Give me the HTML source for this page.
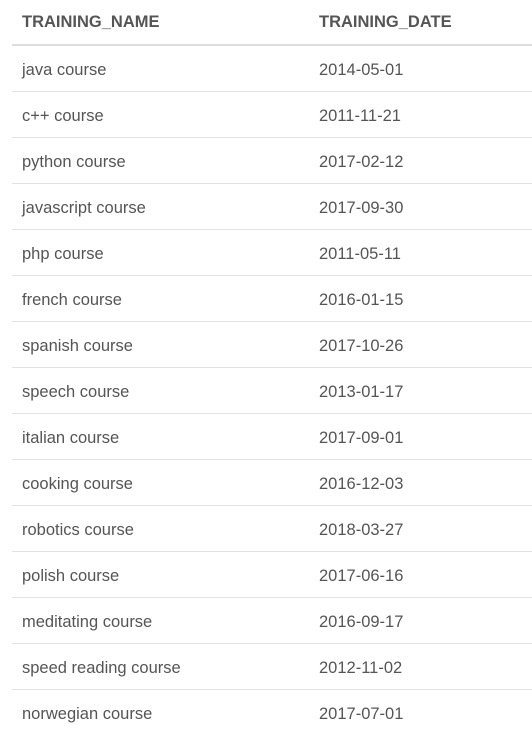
<!DOCTYPE html>
<html><head><style>
body{margin:0;background:#fff;width:532px;height:738px;overflow:hidden;font-family:"Liberation Sans",sans-serif;color:#555;position:relative;}
.w{position:absolute;left:0;top:1px;width:532px;height:738px;}
.r{position:absolute;left:12px;width:520px;height:45px;border-bottom:1px solid #e2e2e2;font-size:16.5px;line-height:45px;}
.r span{position:absolute;top:2px;}
.r span:first-child{left:10px}
.r span:last-child{left:307px}
.h{top:0;height:43px;line-height:43px;border-bottom:2px solid #ddd;font-weight:bold;}
.h span{top:0}
</style></head><body><div class="w">
<div class="r h"><span>TRAINING_NAME</span><span>TRAINING_DATE</span></div>
<div class="r" style="top:45px"><span>java course</span><span>2014-05-01</span></div>
<div class="r" style="top:91px"><span>c++ course</span><span>2011-11-21</span></div>
<div class="r" style="top:137px"><span>python course</span><span>2017-02-12</span></div>
<div class="r" style="top:183px"><span>javascript course</span><span>2017-09-30</span></div>
<div class="r" style="top:229px"><span>php course</span><span>2011-05-11</span></div>
<div class="r" style="top:275px"><span>french course</span><span>2016-01-15</span></div>
<div class="r" style="top:321px"><span>spanish course</span><span>2017-10-26</span></div>
<div class="r" style="top:367px"><span>speech course</span><span>2013-01-17</span></div>
<div class="r" style="top:413px"><span>italian course</span><span>2017-09-01</span></div>
<div class="r" style="top:459px"><span>cooking course</span><span>2016-12-03</span></div>
<div class="r" style="top:505px"><span>robotics course</span><span>2018-03-27</span></div>
<div class="r" style="top:551px"><span>polish course</span><span>2017-06-16</span></div>
<div class="r" style="top:597px"><span>meditating course</span><span>2016-09-17</span></div>
<div class="r" style="top:643px"><span>speed reading course</span><span>2012-11-02</span></div>
<div class="r" style="top:689px;border-bottom:none"><span>norwegian course</span><span>2017-07-01</span></div>
</div></body></html>
